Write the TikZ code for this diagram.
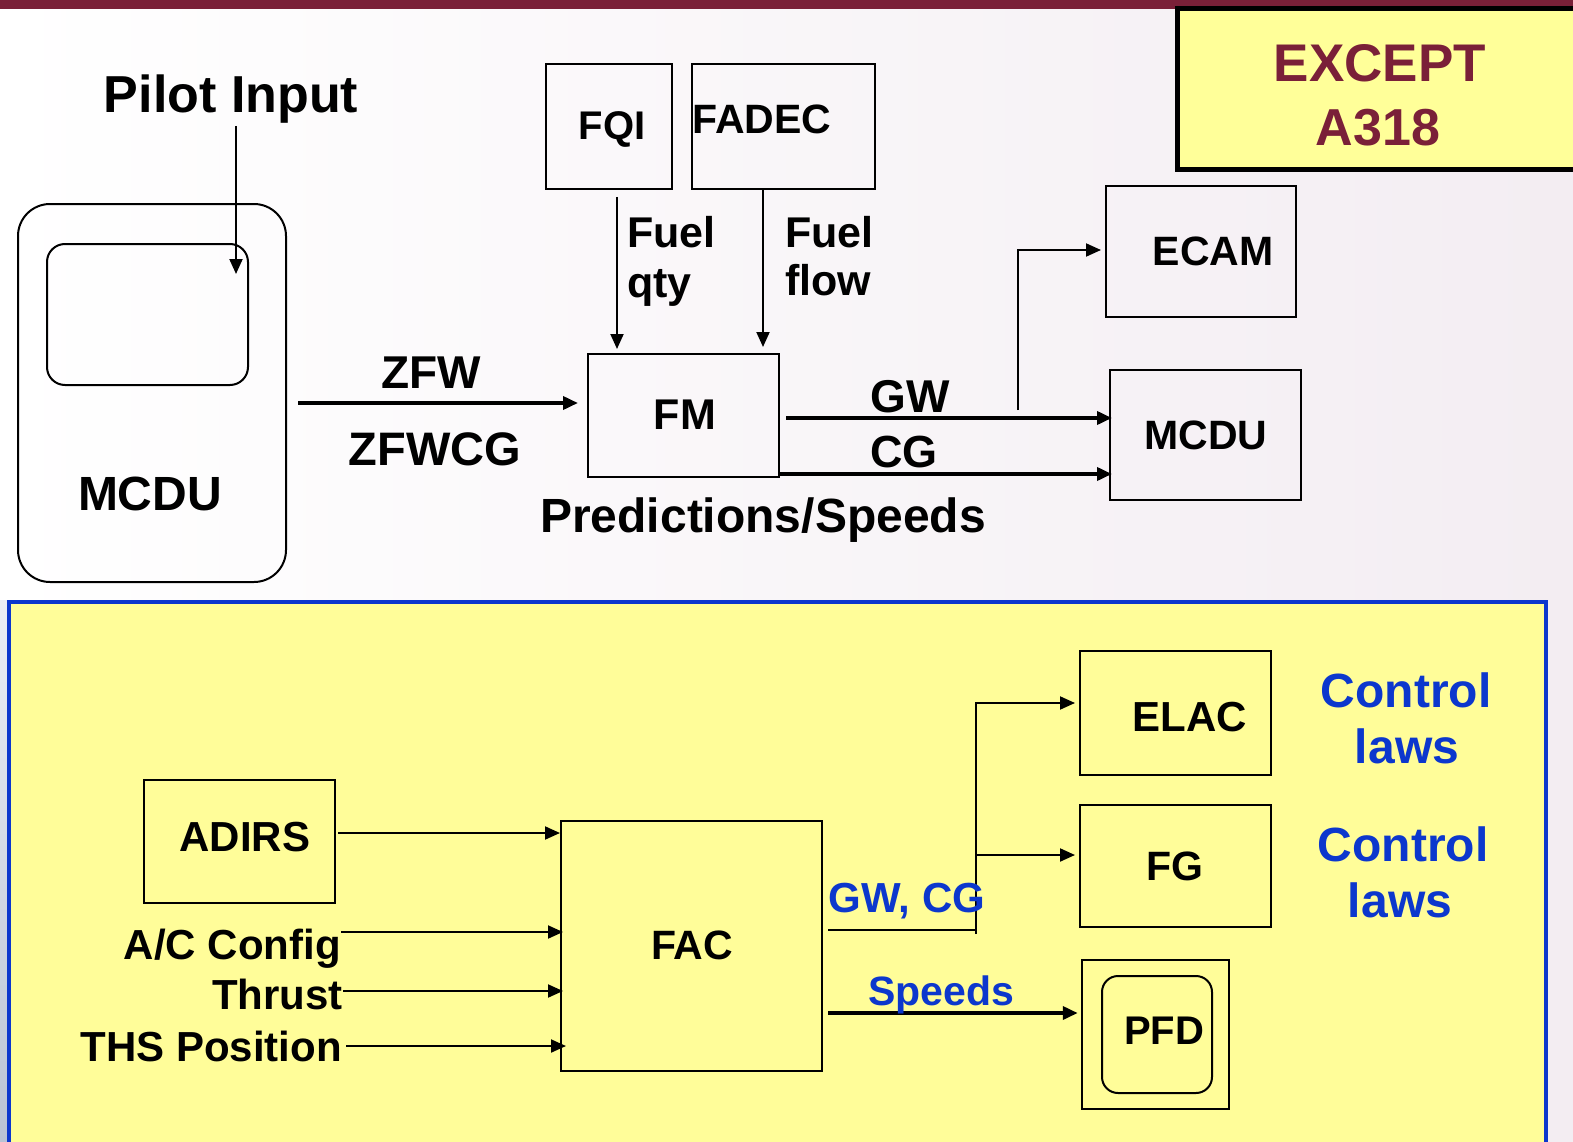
\documentclass[tikz,border=0pt]{standalone}
\usepackage{fontspec}
\setmainfont{Liberation Sans}
\usetikzlibrary{arrows.meta}
\definecolor{maroon}{RGB}{122,32,56}
\definecolor{paneyel}{RGB}{255,253,153}
\definecolor{hiyel}{RGB}{255,255,153}
\definecolor{bl}{RGB}{12,55,205}
\tikzset{
  box/.style={draw=black, line width=2pt, inner sep=0pt, fill=none},
  txt/.style={inner sep=0pt, anchor=base, font=\bfseries\fontsize{#1}{#1}\selectfont},
  arr/.style={-{Triangle[length=15pt,width=13pt]}, line width=2pt},
  thk/.style={-{Triangle[length=15pt,width=13pt]}, line width=3.6pt},
  plain/.style={line width=2pt}
}
\begin{document}
\begin{tikzpicture}[x=1pt,y=-1pt]
\useasboundingbox (0,0) rectangle (1573,1142);
% background
\shade[left color=white, right color={rgb,255:red,243;green,237;blue,242}] (0,0) rectangle (1573,1142);
\shade[top color={rgb,255:red,235;green,238;blue,245}, bottom color={rgb,255:red,185;green,195;blue,212}] (0,600) rectangle (9,1142);
\fill[maroon] (0,0) rectangle (1573,9);

% EXCEPT A318 box
\node[draw=black, line width=5pt, fill=hiyel, minimum width=413pt, minimum height=161pt, inner sep=0pt] (except) at (1383.5,89.5) {};
\node[txt=53, text=maroon] (tExcept) at (1380,82) {EXCEPT};
\node[txt=52, text=maroon] (tA318) at (1378,146) {A318};

% ---------- top part ----------
\node[box, rounded corners=32pt, minimum width=268pt, minimum height=378pt] (mcduL) at (152,393) {};
\node[box, rounded corners=18pt, minimum width=201pt, minimum height=141pt] (screen) at (147.5,314.5) {};
\node[txt=52] (tPilot) at (231,113) {Pilot Input};
\node[txt=48] (tMcduL) at (150,510) {MCDU};
\coordinate (pilotS) at (236,126);
\coordinate (pilotE) at (236,274);
\draw[arr] (pilotS) -- (pilotE);

\node[box, minimum width=126pt, minimum height=125pt] (fqi) at (609,126.5) {};
\node[box, minimum width=183pt, minimum height=125pt] (fadec) at (783.5,126.5) {};
\node[txt=40] (tFqi) at (612,140) {FQI};
\node[txt=41] (tFadec) at (762,134) {FADEC};

\node[box, minimum width=191pt, minimum height=123pt] (fm) at (683.5,415.5) {};
\node[txt=43] (tFm) at (685,429) {FM};

\coordinate (qtyS) at (617,197);
\coordinate (qtyE) at (617,349);
\draw[arr] (qtyS) -- (qtyE);
\coordinate (flowE) at (763,347);
\draw[arr] (fadec.south -| flowE) -- (flowE);
\node[txt=43, anchor=base west] (tFuel1) at (627,247) {Fuel};
\node[txt=43, anchor=base west] (tQty) at (627,297) {qty};
\node[txt=43, anchor=base west] (tFuel2) at (785,247) {Fuel};
\node[txt=43, anchor=base west] (tFlow) at (785,295) {flow};

\coordinate (zfwS) at (298,403);
\coordinate (zfwE) at (578,403);
\draw[thk] (zfwS) -- (zfwE);
\node[txt=46] (tZfw) at (431,388) {ZFW};
\node[txt=47] (tZfwcg) at (435,465) {ZFWCG};
\node[txt=48] (tPred) at (763,532) {Predictions/Speeds};

\node[box, minimum width=190pt, minimum height=131pt] (ecam) at (1201,251.5) {};
\node[txt=41] (tEcam) at (1213,265) {ECAM};
\node[box, minimum width=191pt, minimum height=130pt] (mcduR) at (1205.5,435) {};
\node[txt=41] (tMcduR) at (1206,449) {MCDU};

\coordinate (gwS) at (786,418);
\draw[thk] (gwS) -- ([xshift=3pt]mcduR.west |- gwS);
\coordinate (cgS) at (779,474);
\draw[thk] (cgS) -- ([xshift=3pt]mcduR.west |- cgS);
\node[txt=46] (tGw) at (910,412) {GW};
\node[txt=45] (tCg) at (904,467) {CG};
\coordinate (brS) at (1018,410);
\coordinate (brT) at (1018,250);
\draw[arr] (brS) -- (brT) -- ([xshift=-4pt]ecam.west |- brT);

% ---------- bottom panel ----------
\node[draw=bl, line width=4pt, fill=paneyel, minimum width=1537pt, minimum height=560pt, inner sep=0pt] (panel) at (777.5,882) {};

\node[box, minimum width=191pt, minimum height=123pt] (adirs) at (239.5,841.5) {};
\node[txt=42] (tAdirs) at (245,851) {ADIRS};
\node[box, minimum width=261pt, minimum height=250pt] (fac) at (691.5,946) {};
\node[txt=41] (tFac) at (692,959) {FAC};

\node[txt=42, anchor=base east] (tAc) at (341,959) {A/C Config};
\node[txt=42, anchor=base east] (tThrust) at (343,1009) {Thrust};
\node[txt=42, anchor=base east] (tThs) at (342,1061) {THS Position};

\coordinate (adS) at (338,833);
\draw[arr] (adS) -- (fac.west |- adS);
\coordinate (acS) at (341,932);
\draw[arr] (acS) -- ([xshift=3pt]fac.west |- acS);
\coordinate (thS) at (343,991);
\draw[arr] (thS) -- ([xshift=3pt]fac.west |- thS);
\coordinate (thsS) at (346,1046);
\draw[arr] (thsS) -- ([xshift=6pt]fac.west |- thsS);

\node[box, minimum width=191pt, minimum height=124pt] (elac) at (1175.5,713) {};
\node[txt=42] (tElac) at (1190,731) {ELAC};
\node[box, minimum width=191pt, minimum height=122pt] (fg) at (1175.5,866) {};
\node[txt=41] (tFg) at (1175,880) {FG};

\coordinate (gcS) at (828,930);
\coordinate (gcC) at (976,930);
\coordinate (gcB) at (976,934);
\coordinate (gcT) at (976,703);
\coordinate (gcM) at (976,855);
\draw[plain] (gcS) -- (gcC);
\draw[arr] (gcB) -- (gcT) -- ([xshift=-4pt]elac.west |- gcT);
\draw[arr] (gcM) -- ([xshift=-4pt]fg.west |- gcM);
\node[txt=42, text=bl] (tGwcg) at (907,912) {GW, CG};

\node[txt=48, text=bl] (tCl1) at (1406,707) {Control};
\node[txt=48, text=bl] (tLaws1) at (1407,763) {laws};
\node[txt=48, text=bl] (tCl2) at (1403,861) {Control};
\node[txt=48, text=bl] (tLaws2) at (1400,917) {laws};

\node[draw=black, line width=2.5pt, minimum width=147pt, minimum height=149pt, inner sep=0pt] (pfdO) at (1155.5,1034.5) {};
\node[box, rounded corners=16pt, minimum width=110pt, minimum height=117pt] (pfdI) at (1157,1034.5) {};
\node[txt=40] (tPfd) at (1164,1044) {PFD};

\coordinate (spS) at (828,1013);
\draw[thk] (spS) -- ([xshift=-3pt]pfdO.west |- spS);
\node[txt=41, text=bl] (tSpeeds) at (941,1005) {Speeds};
\end{tikzpicture}
\end{document}
